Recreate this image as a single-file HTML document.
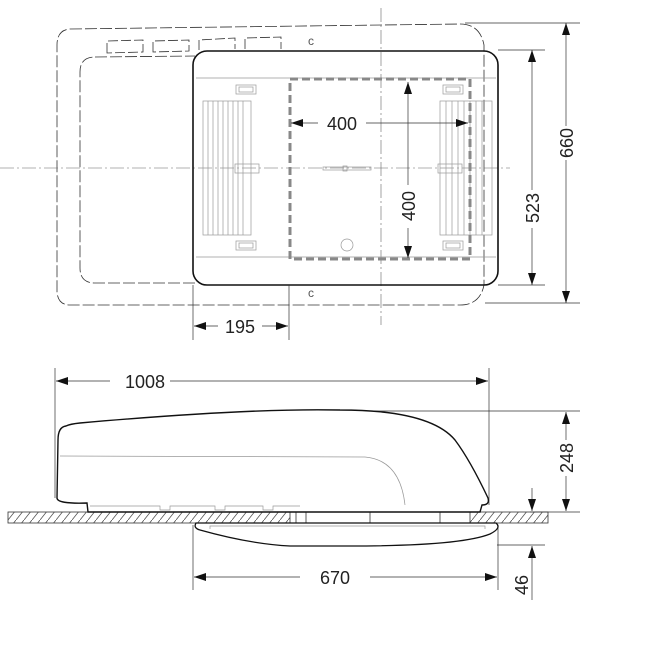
<!DOCTYPE html>
<html><head><style>html,body{margin:0;padding:0;background:#fff}svg{display:block}</style></head>
<body>
<svg width="645" height="649" viewBox="0 0 645 649" xmlns="http://www.w3.org/2000/svg" font-family="Liberation Sans, sans-serif">
<defs>
<marker id="a" viewBox="0 0 12 8" refX="12" refY="4" markerWidth="12" markerHeight="8" orient="auto" markerUnits="userSpaceOnUse"><path d="M0,0 L12,4 L0,8z" fill="#111"/></marker>
<pattern id="h" width="8" height="10" patternUnits="userSpaceOnUse"><path d="M0,10 L8,0" stroke="#555" stroke-width="0.8"/></pattern>
</defs>
<g fill="none" stroke="#333" stroke-width="0.8">
<path d="M70,29 L460,24 Q480,24 484,45 L484,285 Q480,305 460,305 L70,305 Q58,305 57,292 L57,45 Q57,30 70,29Z" stroke-dasharray="12,3"/>
<path d="M95,57 L195,56 M195,283 L95,283 Q80,283 80,268 L80,72 Q80,57 95,57" stroke-dasharray="12,3"/>
<path d="M107,53 L107,41 L143,40 L143,52Z M153,52 L153,41 L189,40 L189,51Z M199,50 L199,40 L235,38 L235,49 M245,49 L245,38 L281,37 L281,49" stroke-dasharray="10,3"/>
<text x="308" y="45" font-size="12" fill="#555" stroke="none">c</text>
<text x="308" y="297" font-size="12" fill="#555" stroke="none">c</text>
<path d="M381,8 L381,325 M0,168 L510,168" stroke="#666" stroke-width="0.6" stroke-dasharray="14,3,2,3"/>
</g>
<rect x="193" y="51" width="305" height="234" rx="14" fill="none" stroke="#111" stroke-width="1.6"/>
<g stroke="#999" stroke-width="0.7" fill="none">
<path d="M196,78 L496,78 M196,257 L496,257"/>
<rect x="203" y="101" width="48" height="134"/>
<path d="M208,101V235 M213,101V235 M218,101V235 M223,101V235 M228,101V235 M233,101V235 M238,101V235 M243,101V235"/>
<rect x="440" y="101" width="52" height="134"/>
<path d="M446,101V235 M452,101V235 M458,101V235 M464,101V235 M470,101V235 M476,101V235 M482,101V235"/>
<rect x="236" y="85" width="20" height="9"/><rect x="239" y="87" width="14" height="5"/>
<rect x="236" y="241" width="20" height="9"/><rect x="239" y="243" width="14" height="5"/>
<rect x="443" y="85" width="20" height="9"/><rect x="446" y="87" width="14" height="5"/>
<rect x="443" y="241" width="20" height="9"/><rect x="446" y="243" width="14" height="5"/>
<rect x="235" y="164" width="24" height="9"/><rect x="438" y="164" width="24" height="9"/>
<rect x="323" y="167" width="48" height="3"/><rect x="343" y="166" width="4" height="5"/>
<circle cx="347" cy="245" r="6"/>
</g>
<rect x="290" y="79" width="180" height="180" fill="none" stroke="#888" stroke-width="3" stroke-dasharray="8,4"/>
<g stroke="#333" stroke-width="0.7" fill="none">
<path d="M465,23 L580,23 M485,303 L580,303 M498,50 L545,50 M498,285 L545,285 M193,285 L193,340 M289,285 L289,340"/>
<path d="M566,126 L566,23" marker-end="url(#a)"/><path d="M566,160 L566,303" marker-end="url(#a)"/>
<path d="M532,190 L532,50" marker-end="url(#a)"/><path d="M532,228 L532,285" marker-end="url(#a)"/>
<path d="M318,123 L291,123" marker-end="url(#a)"/><path d="M366,123 L468,123" marker-end="url(#a)"/>
<path d="M408,185 L408,82" marker-end="url(#a)"/><path d="M408,228 L408,258" marker-end="url(#a)"/>
<path d="M218,326 L194,326" marker-end="url(#a)"/><path d="M262,326 L288,326" marker-end="url(#a)"/>
</g>
<g font-size="18" fill="#222">
<text x="342" y="130" text-anchor="middle">400</text>
<text x="240" y="333" text-anchor="middle">195</text>
<text transform="translate(415,206) rotate(-90)" text-anchor="middle">400</text>
<text transform="translate(539,208) rotate(-90)" text-anchor="middle">523</text>
<text transform="translate(573,143) rotate(-90)" text-anchor="middle">660</text>
</g>
<g stroke="#333" stroke-width="0.7" fill="none">
<path d="M55,368 L55,498 M489,368 L489,505 M330,411 L580,411 M530,512 L580,512 M497,545 L545,545 M193,525 L193,590 M498,525 L498,590"/>
<path d="M110,381 L56,381" marker-end="url(#a)"/><path d="M170,381 L488,381" marker-end="url(#a)"/>
<path d="M566,440 L566,412" marker-end="url(#a)"/><path d="M566,476 L566,511" marker-end="url(#a)"/>
<path d="M532,488 L532,511" marker-end="url(#a)"/><path d="M532,600 L532,546" marker-end="url(#a)"/>
<path d="M300,577 L194,577" marker-end="url(#a)"/><path d="M370,577 L497,577" marker-end="url(#a)"/>
</g>
<g font-size="18" fill="#222">
<text x="145" y="388" text-anchor="middle">1008</text>
<text x="335" y="584" text-anchor="middle">670</text>
<text transform="translate(573,458) rotate(-90)" text-anchor="middle">248</text>
<text transform="translate(528,585) rotate(-90)" text-anchor="middle">46</text>
</g>
<rect x="8" y="512" width="282" height="11" fill="url(#h)" stroke="#333" stroke-width="0.8"/>
<rect x="470" y="512" width="78" height="11" fill="url(#h)" stroke="#333" stroke-width="0.8"/>
<path d="M290,512 L470,512 M290,523 L470,523 M296,512V523 M306,512V523 M370,512V523 M440,512V523" stroke="#333" stroke-width="0.8" fill="none"/>
<path d="M66,426 Q70,424 80,423 Q250,408 340,410 Q430,410 455,440 Q470,460 488,498 Q490,505 482,505 L480,512 L88,512 L87,503 Q57,504 57,498 L58,440 Q58,427 66,426Z" fill="#fff" stroke="#111" stroke-width="1.4"/>
<path d="M60,456 L365,457 Q400,460 405,505" stroke="#999" stroke-width="0.7" fill="none"/>
<path d="M90,506 L160,506 L160,510 L170,510 L170,506 L215,506 L215,510 L225,510 L225,506 L263,506 L263,510 L273,510 L273,506 L300,506" stroke="#999" stroke-width="0.7" fill="none"/>
<path d="M196,523 L496,523 Q502,528 490,534 Q460,546 350,546 L290,546 Q250,544 200,530 Q193,528 196,523Z" fill="#fff" stroke="#111" stroke-width="1.3"/>
<path d="M210,529 L210,526 L485,526 L485,529" stroke="#999" stroke-width="0.7" fill="none"/>
</svg>
</body></html>
